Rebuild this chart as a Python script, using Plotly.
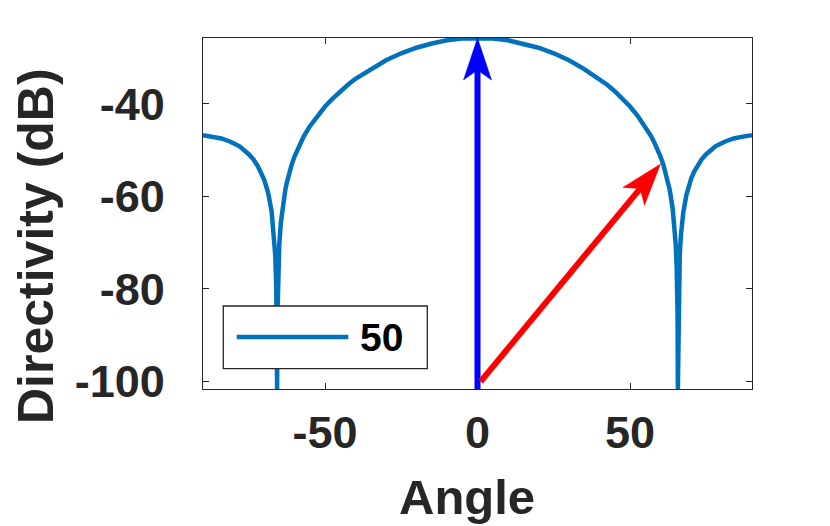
import math
import plotly.graph_objects as go

# ---------------- data ----------------
angle = [-90, -87, -84, -81, -78, -75, -73.5, -72, -71, -70, -69, -68.5, -67.5,
         -66.7, -66.3, -66, -65.8, -65.7, -65.6, -65.5, -65.3, -65, -64.5, -64,
         -63, -62.5, -62, -61, -60, -59, -58, -57, -55, -52.5, -50, -47.5, -45,
         -42.5, -40, -35, -30, -25, -20, -15, -10, -5,
         0,
         5, 10, 15, 20, 25, 30, 35, 40, 42.5, 45, 47.5, 50, 52.5, 55, 57, 58, 59,
         60, 61, 62, 62.5, 63, 64, 64.5, 65, 65.3, 65.5, 65.6, 65.7, 65.8, 66,
         66.3, 66.7, 67.5, 68.5, 69, 70, 71, 72, 73.5, 75, 78, 81, 84, 87, 90]
directivity = [-46.8, -47.1, -47.5, -48.2, -49.2, -50.9, -52.0, -53.5, -54.7, -56.3,
               -58.4, -59.7, -63.3, -68.3, -72.8, -79.1, -90.2, -101.6, -86.0, -80.8,
               -75.2, -70.5, -65.8, -62.7, -58.5, -57.0, -55.6, -53.3, -51.4, -49.8,
               -48.4, -47.1, -44.9, -42.6, -40.6, -38.9, -37.3, -35.9, -34.6, -32.5,
               -30.6, -29.1, -27.9, -27.0, -26.3, -25.9,
               -25.8,
               -25.9, -26.3, -27.0, -27.9, -29.1, -30.6, -32.5, -34.6, -35.9, -37.3,
               -38.9, -40.6, -42.6, -44.9, -47.1, -48.4, -49.8, -51.4, -53.3, -55.6,
               -57.0, -58.5, -62.7, -65.8, -70.5, -75.2, -80.8, -86.0, -101.6, -90.2,
               -79.1, -72.8, -68.3, -63.3, -59.7, -58.4, -56.3, -54.7, -53.5, -52.0,
               -50.9, -49.2, -48.2, -47.5, -47.1, -46.8]
legend_label = "50"

x_ticks = [-50, 0, 50]
x_tick_labels = ["-50", "0", "50"]
y_ticks = [-100, -80, -60, -40]
y_tick_labels = ["-100", "-80", "-60", "-40"]
x_range = [-90, 90]
y_range = [-101.6, -25.8]

arrow_colors = ["#0000FF", "#FF0000"]
arrow_start_x = [0, 1]
arrow_start_y = [-101.6, -100]
arrow_end_x = [0, 60]
arrow_end_y = [-25.8, -53]

# ---------------- styling ----------------
# the page body adds an 8px offset, so the figure is 8px smaller and shifted
OFF = 8
W, H = 830 - OFF, 526 - OFF
PW, PH = 549, 351
ML, MT = 203 - OFF, 38 - OFF
MR, MB = W - ML - PW, H - MT - PH
AX = "#262626"
CURVE = "#0072BD"
FONT = "Liberation Sans"

sx = PW / (x_range[1] - x_range[0])   # px per degree
sy = PH / (y_range[1] - y_range[0])   # px per dB

def px_paper_x(px):          # px = position in the final screenshot
    return (px - OFF - ML) / PW

def px_paper_y(py):
    return (MT + PH - (py - OFF)) / PH

fig = go.Figure()
fig.add_trace(go.Scatter(x=angle, y=directivity, mode="lines",
                         line=dict(color=CURVE, width=4.5),
                         name=legend_label, showlegend=False, hoverinfo="skip"))

HEAD_LEN, HEAD_HALF, NOTCH = 42, 14, 32
shapes = []
for c, x0, y0, x1, y1 in zip(arrow_colors, arrow_start_x, arrow_start_y,
                             arrow_end_x, arrow_end_y):
    dxp = (x1 - x0) * sx
    dyp = (y1 - y0) * sy
    n = math.hypot(dxp, dyp)
    ux, uy = dxp / n, dyp / n
    back = NOTCH - 2
    xe = x1 - back * ux / sx
    ye = y1 - back * uy / sy
    fig.add_trace(go.Scatter(x=[x0, xe], y=[y0, ye], mode="lines",
                             line=dict(color=c, width=6),
                             showlegend=False, hoverinfo="skip"))
    pts = [(0, 0), (HEAD_HALF, -HEAD_LEN), (0, -NOTCH), (-HEAD_HALF, -HEAD_LEN)]
    wp = []
    for (pxh, pyh) in pts:
        wx = pyh * ux + pxh * uy
        wy = pyh * uy - pxh * ux
        wp.append((wx, wy))
    path = "M " + " L ".join(f"{a:.2f},{b:.2f}" for a, b in wp) + " Z"
    shapes.append(dict(type="path", xref="x", yref="y", xsizemode="pixel",
                       ysizemode="pixel", xanchor=x1, yanchor=y1, path=path,
                       fillcolor=c, line=dict(color=c, width=0.5), layer="above"))

# legend (box drawn like the reference)
shapes.append(dict(type="rect", xref="paper", yref="paper",
                   x0=px_paper_x(223.3), x1=px_paper_x(427.3),
                   y0=px_paper_y(368.7), y1=px_paper_y(306),
                   fillcolor="white", line=dict(color=AX, width=1.3), layer="above"))
shapes.append(dict(type="line", xref="paper", yref="paper",
                   x0=px_paper_x(236.7), x1=px_paper_x(348.3),
                   y0=px_paper_y(337), y1=px_paper_y(337),
                   line=dict(color=CURVE, width=4.5), layer="above"))

annotations = [
    dict(text=legend_label, xref="paper", yref="paper", x=px_paper_x(358),
         y=px_paper_y(337), xanchor="left", yanchor="middle", showarrow=False,
         font=dict(family=FONT, size=39, color="black", weight="bold")),
    dict(text="Directivity (dB)", xref="paper", yref="paper", x=px_paper_x(36),
         y=px_paper_y(246), xanchor="center", yanchor="middle", textangle=-90,
         showarrow=False, font=dict(family=FONT, size=50, color=AX, weight="bold")),
    dict(text="Angle", xref="paper", yref="paper", x=px_paper_x(466.5),
         y=px_paper_y(497), xanchor="center", yanchor="middle",
         showarrow=False, font=dict(family=FONT, size=49, color=AX, weight="bold")),
]

axis_common = dict(showline=True, linecolor=AX, linewidth=1.3, mirror="ticks",
                   ticks="inside", ticklen=6, tickwidth=1.3, tickcolor=AX,
                   showgrid=False, zeroline=False,
                   tickfont=dict(family=FONT, size=45, color=AX, weight="bold"))

fig.update_layout(
    width=W, height=H,
    margin=dict(l=ML, r=MR, t=MT, b=MB),
    paper_bgcolor="white", plot_bgcolor="white",
    xaxis=dict(range=x_range, tickvals=x_ticks, ticktext=x_tick_labels,
               ticklabelstandoff=4, **axis_common),
    yaxis=dict(range=y_range, tickvals=y_ticks, ticktext=y_tick_labels,
               ticklabelstandoff=28, **axis_common),
    shapes=shapes, annotations=annotations, showlegend=False,
)

fig.write_html("out.html")
